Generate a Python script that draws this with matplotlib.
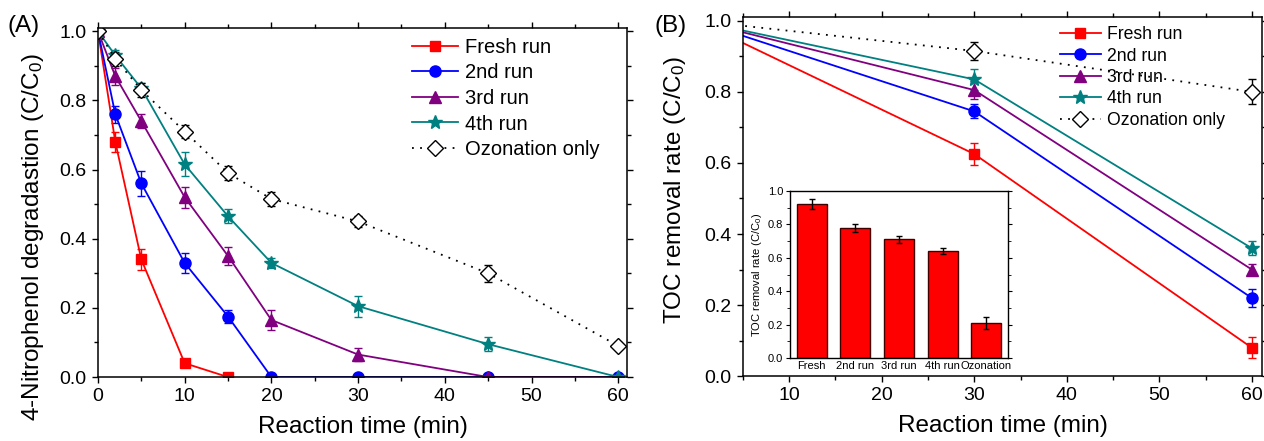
import matplotlib.pyplot as plt
from matplotlib.ticker import MultipleLocator

plt.rcParams['font.family'] = ['Liberation Sans', 'DejaVu Sans']
plt.rcParams['mathtext.fontset'] = 'custom'
plt.rcParams['mathtext.rm'] = 'Liberation Sans'
plt.rcParams['mathtext.it'] = 'Liberation Sans'

# ---- panel A: 4-nitrophenol degradation ----
time_a = [0, 2, 5, 10, 15, 20, 30, 45, 60]
fresh_a = [1.0, 0.68, 0.34, 0.04, 0.0]
fresh_a_err = [0, 0.03, 0.03, 0.01, 0]
run2_a = [1.0, 0.76, 0.56, 0.33, 0.175, 0.0, 0.0, 0.0, 0.0]
run2_a_err = [0, 0.025, 0.035, 0.03, 0.02, 0, 0, 0, 0]
run3_a = [1.0, 0.87, 0.74, 0.52, 0.35, 0.165, 0.065, 0.0, 0.0]
run3_a_err = [0, 0.025, 0.02, 0.03, 0.025, 0.03, 0.02, 0, 0]
run4_a = [1.0, 0.93, 0.835, 0.615, 0.465, 0.33, 0.205, 0.095, 0.0]
run4_a_err = [0, 0.015, 0.015, 0.035, 0.02, 0.015, 0.03, 0.02, 0]
ozone_a = [1.0, 0.92, 0.83, 0.71, 0.59, 0.515, 0.45, 0.30, 0.09]
ozone_a_err = [0, 0.02, 0.02, 0.02, 0.02, 0.02, 0.015, 0.025, 0.01]

# ---- panel B: TOC removal ----
time_b = [0, 30, 60]
fresh_b = [1.0, 0.625, 0.08]
fresh_b_err = [0, 0.03, 0.03]
run2_b = [1.0, 0.745, 0.22]
run2_b_err = [0, 0.02, 0.025]
run3_b = [1.0, 0.805, 0.30]
run3_b_err = [0, 0.025, 0.015]
run4_b = [1.0, 0.835, 0.36]
run4_b_err = [0, 0.03, 0.02]
ozone_b = [1.0, 0.915, 0.80]
ozone_b_err = [0, 0.025, 0.035]

# ---- inset bars ----
bar_labels = ['Fresh', '2nd run', '3rd run', '4th run', 'Ozonation']
bar_values = [0.92, 0.78, 0.71, 0.64, 0.21]
bar_err = [0.03, 0.025, 0.02, 0.02, 0.035]

series_labels = ['Fresh run', '2nd run', '3rd run', '4th run', 'Ozonation only']
colors = ['#ff0000', '#0000ff', '#800080', '#008080', 'black']
markers = ['s', 'o', '^', '*', 'D']
msizes = [7, 8, 8, 10, 8]


def style_axes(ax):
    for sp in ax.spines.values():
        sp.set_linewidth(1.1)
    ax.tick_params(which='both', direction='out', top=True, right=True, labelsize=14)
    ax.tick_params(which='major', length=4.5, width=1)
    ax.tick_params(which='minor', length=3, width=1)


def draw_series(ax, x, ys, errs):
    handles = []
    for i, (y, e) in enumerate(zip(ys, errs)):
        xx = x[:len(y)]
        if i == 4:
            c = ax.errorbar(xx, y, yerr=e, color='black', ls=(0, (1, 3.5)), lw=1.3, marker='D',
                            ms=msizes[i], mfc='white', mec='black', mew=1,
                            capsize=3, elinewidth=1)
        else:
            c = ax.errorbar(xx, y, yerr=e, color=colors[i], ls='-', lw=1.3, marker=markers[i],
                            ms=msizes[i], capsize=3, elinewidth=1)
        handles.append(c[0])
    return handles


fig = plt.figure(figsize=(12.64, 4.41), dpi=100)

axA = fig.add_axes([0.0775, 0.145, 0.4185, 0.792])
hA = draw_series(axA, time_a, [fresh_a, run2_a, run3_a, run4_a, ozone_a],
                 [fresh_a_err, run2_a_err, run3_a_err, run4_a_err, ozone_a_err])
axA.set_xlim(0, 61)
axA.set_ylim(0, 1.01)
axA.xaxis.set_major_locator(MultipleLocator(10))
axA.xaxis.set_minor_locator(MultipleLocator(5))
axA.yaxis.set_major_locator(MultipleLocator(0.2))
axA.yaxis.set_minor_locator(MultipleLocator(0.1))
axA.yaxis.set_major_formatter(plt.FormatStrFormatter('%.1f'))
style_axes(axA)
axA.set_xlabel('Reaction time (min)', fontsize=17.5, labelpad=8)
axA.set_ylabel('4-Nitrophenol degradastion (C/C$_0$)', fontsize=17.5)
axA.yaxis.set_label_coords(-0.098, 0.40)
axA.legend(hA, series_labels, loc='upper left', bbox_to_anchor=(0.594, 0.972), frameon=False,
           fontsize=14.5, numpoints=1, handlelength=2.3, handletextpad=0.3, labelspacing=0.33,
           borderpad=0, borderaxespad=0)
fig.text(0.006, 0.94, '(A)', fontsize=17.5, va='center')

axB = fig.add_axes([0.5878, 0.147, 0.4106, 0.814])
hB = draw_series(axB, time_b, [fresh_b, run2_b, run3_b, run4_b, ozone_b],
                 [fresh_b_err, run2_b_err, run3_b_err, run4_b_err, ozone_b_err])
axB.set_xlim(5, 61.1)
axB.set_ylim(0, 1.01)
axB.xaxis.set_major_locator(MultipleLocator(10))
axB.xaxis.set_minor_locator(MultipleLocator(5))
axB.yaxis.set_major_locator(MultipleLocator(0.2))
axB.yaxis.set_minor_locator(MultipleLocator(0.1))
axB.yaxis.set_major_formatter(plt.FormatStrFormatter('%.1f'))
style_axes(axB)
axB.set_xlabel('Reaction time (min)', fontsize=17.5, labelpad=8)
axB.set_ylabel('TOC removal rate (C/C$_0$)', fontsize=17.5)
axB.yaxis.set_label_coords(-0.105, 0.52)
axB.legend(hB, series_labels, loc='upper left', bbox_to_anchor=(0.611, 0.975), frameon=False,
           fontsize=12.7, numpoints=1, handlelength=2.3, handletextpad=0.35, labelspacing=0.25,
           borderpad=0, borderaxespad=0)
fig.text(0.518, 0.94, '(B)', fontsize=17.5, va='center')

# inset
axI = fig.add_axes([0.625, 0.188, 0.1725, 0.379])
pos = list(range(len(bar_values)))
axI.bar(pos, bar_values, width=0.69, color='#ff0000', edgecolor='#400000', linewidth=1,
        yerr=bar_err, capsize=2, error_kw=dict(elinewidth=1, capthick=1))
axI.set_xlim(-0.5, 4.5)
axI.set_ylim(0, 1.0)
axI.set_xticks(pos)
axI.set_xticklabels(bar_labels)
axI.yaxis.set_major_locator(MultipleLocator(0.2))
axI.yaxis.set_minor_locator(MultipleLocator(0.1))
axI.yaxis.set_major_formatter(plt.FormatStrFormatter('%.1f'))
for sp in axI.spines.values():
    sp.set_linewidth(1)
axI.tick_params(which='both', direction='out', right=True, labelsize=8, pad=2)
axI.tick_params(which='major', length=3)
axI.tick_params(which='minor', length=2)
axI.tick_params(axis='x', length=0)
axI.set_ylabel('TOC removal rate (C/C$_0$)', fontsize=8, labelpad=3)

fig.savefig('out.png', dpi=100)
